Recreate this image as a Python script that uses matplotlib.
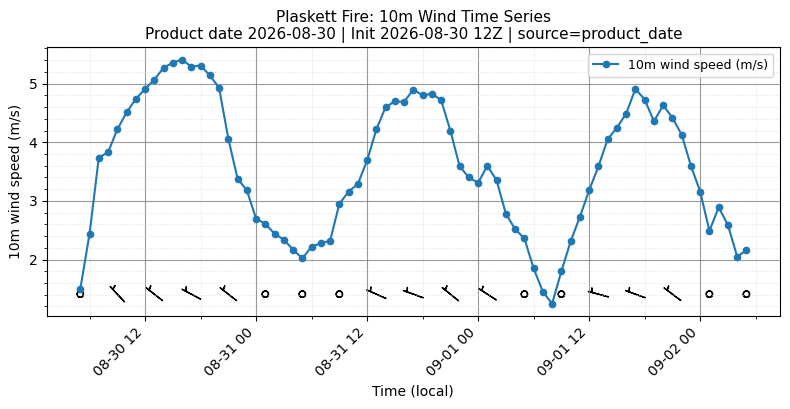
import numpy as np
import pandas as pd
import matplotlib
matplotlib.use("Agg")
import matplotlib.pyplot as plt
import matplotlib.dates as mdates
from matplotlib.ticker import AutoMinorLocator

# hourly 10m wind speed (m/s), local time
start_time = "2026-08-30 05:00"
wind_speed = [
    # 08-30 05..23
    1.50, 2.44, 3.74, 3.83, 4.22, 4.51, 4.74, 4.91, 5.07, 5.27, 5.36, 5.41,
    5.29, 5.31, 5.14, 4.93, 4.06, 3.38, 3.18,
    # 08-31 00..23
    2.70, 2.61, 2.44, 2.34, 2.17, 2.02, 2.22, 2.28, 2.32, 2.95, 3.16, 3.29,
    3.69, 4.22, 4.60, 4.70, 4.69, 4.90, 4.80, 4.83, 4.72, 4.20, 3.59, 3.40,
    # 09-01 00..23
    3.31, 3.60, 3.35, 2.78, 2.52, 2.36, 1.85, 1.45, 1.25, 1.80, 2.31, 2.73,
    3.18, 3.59, 4.05, 4.25, 4.49, 4.91, 4.73, 4.36, 4.63, 4.42, 4.13, 3.60,
    # 09-02 00..05
    3.16, 2.49, 2.89, 2.59, 2.05, 2.16,
]

# wind barbs every 4 hours, direction wind comes from (deg)
barb_step = 4
barb_dir = [300, 317, 308, 298, 308, 300, 300, 300, 294, 290,
            309, 303, 300, 300, 285, 290, 307, 300, 300]
calm_below = 3.0  # m/s -> drawn as empty circle

title = ("Plaskett Fire: 10m Wind Time Series\n"
         "Product date 2026-08-30 | Init 2026-08-30 12Z | source=product_date")

times = pd.date_range(start_time, periods=len(wind_speed), freq="h")
speed = np.array(wind_speed)

fig, ax = plt.subplots(figsize=(7.9, 4.09), dpi=100)
fig.subplots_adjust(left=0.0595, right=0.987, top=0.884, bottom=0.228)

ax.plot(times, speed, marker="o", markersize=4.5, linewidth=1.5,
        color="#1f77b4", label="10m wind speed (m/s)")

# barbs along the bottom
bt = times[::barb_step]
bs = speed[::barb_step].copy()
bs[bs < calm_below] = 0.0
rad = np.deg2rad(np.array(barb_dir))
u = -bs * np.sin(rad)
v = -bs * np.cos(rad)
barb_y = np.full(len(bt), 1.41)
ax.barbs(mdates.date2num(bt), barb_y, u, v, length=5.5, pivot="middle",
         linewidth=1.0, color="black")

ax.xaxis.set_major_locator(mdates.HourLocator(byhour=[0, 12]))
ax.xaxis.set_minor_locator(mdates.HourLocator(byhour=[6, 18]))
ax.xaxis.set_major_formatter(mdates.DateFormatter("%m-%d %H"))
ax.yaxis.set_minor_locator(AutoMinorLocator(5))
plt.setp(ax.get_xticklabels(), rotation=45, ha="right")

ax.grid(True, which="major", color="gray", linewidth=0.8, alpha=0.8)
ax.grid(True, which="minor", color="lightgray", linestyle=":", linewidth=0.6, alpha=0.8)

ax.set_title(title, fontsize=11)
ax.set_xlabel("Time (local)")
ax.set_ylabel("10m wind speed (m/s)")
ax.legend(loc="upper right", fontsize=9)

fig.savefig("out.png", dpi=100)
